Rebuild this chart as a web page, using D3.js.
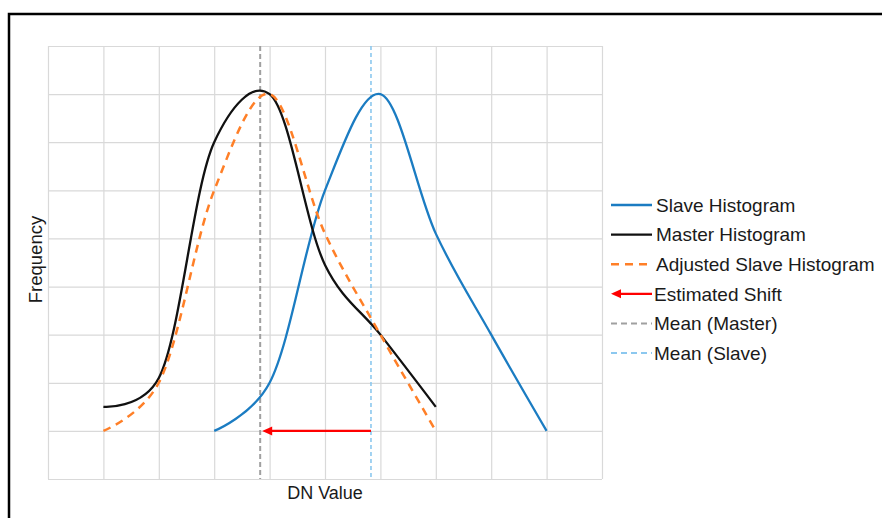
<!DOCTYPE html>
<html>
<head>
<meta charset="utf-8">
<script src="https://cdn.jsdelivr.net/npm/d3@7"></script>
<style>
  html, body { margin: 0; padding: 0; background: #fff; }
  svg { display: block; }
  text { font-family: Arial, "Liberation Sans", sans-serif; fill: #1a1a1a; }
</style>
</head>
<body>
<svg id="chart" width="882" height="518"></svg>
<script>
// ---- data ----
const masterX   = [1, 2, 3, 4, 5, 6, 7];
const masterY   = [1.5, 2.1, 7, 8, 4.45, 3.0, 1.5];
const slaveX    = [3, 4, 5, 6, 7, 8, 9];
const slaveY    = [1, 2, 6, 8, 5.1, 3.0, 1];
const adjustedX = [1, 2, 3, 4, 5, 6, 7];
const adjustedY = [1, 2, 6, 8, 5.1, 3.0, 1];
const meanMaster = 3.83;
const meanSlave  = 5.83;
const shiftLevel = 1;
const xTicks = [0, 1, 2, 3, 4, 5, 6, 7, 8, 9, 10];
const yTicks = [0, 1, 2, 3, 4, 5, 6, 7, 8, 9];
const legendLabels = ["Slave Histogram", "Master Histogram", "Adjusted Slave Histogram",
                      "Estimated Shift", "Mean (Master)", "Mean (Slave)"];

// ---- styles ----
const C = {
  slave: "#1b7cc2", master: "#111111", adjusted: "#ff7f27",
  shift: "#ff0000", meanMaster: "#a0a0a0", meanSlave: "#8cc8ef", grid: "#d9d9d9"
};

const svg = d3.select("#chart");
const pL = 48, pR = 602, pT = 46, pB = 479;
const x = d3.scaleLinear().domain([0, 10]).range([pL, pR]);
const y = d3.scaleLinear().domain([0, 9]).range([pB, pT]);

// outer frame
svg.append("rect").attr("x", 9).attr("y", 14).attr("width", 900).attr("height", 540)
  .attr("fill", "none").attr("stroke", "#000").attr("stroke-width", 2.5);

// gridlines via axes
const gx = svg.append("g").attr("transform", `translate(0,${pB})`)
  .call(d3.axisBottom(x).tickValues(xTicks).tickSize(-(pB - pT)).tickFormat(""));
const gy = svg.append("g").attr("transform", `translate(${pL},0)`)
  .call(d3.axisLeft(y).tickValues(yTicks).tickSize(-(pR - pL)).tickFormat(""));
[gx, gy].forEach(g => {
  g.select(".domain").remove();
  g.selectAll(".tick line").attr("stroke", C.grid).attr("stroke-width", 1.2);
});
// top border of plot box
svg.append("g").attr("transform", `translate(0,${pT})`)
  .call(d3.axisTop(x).tickValues([]).tickSizeOuter(0))
  .select(".domain").attr("stroke", C.grid).attr("stroke-width", 1.2);

const line = d3.line().x(d => x(d[0])).y(d => y(d[1])).curve(d3.curveCatmullRom.alpha(0.2));
const zip = (a, b) => a.map((v, i) => [v, b[i]]);

// mean lines
svg.append("line").attr("x1", x(meanMaster)).attr("x2", x(meanMaster))
  .attr("y1", y(9)).attr("y2", y(0))
  .attr("stroke", C.meanMaster).attr("stroke-width", 2).attr("stroke-dasharray", "5,3");
svg.append("line").attr("x1", x(meanSlave)).attr("x2", x(meanSlave))
  .attr("y1", y(9)).attr("y2", y(0))
  .attr("stroke", C.meanSlave).attr("stroke-width", 1.6).attr("stroke-dasharray", "4,3");

// curves
svg.append("path").datum(zip(slaveX, slaveY)).attr("d", line)
  .attr("fill", "none").attr("stroke", C.slave).attr("stroke-width", 2.3);
svg.append("path").datum(zip(masterX, masterY)).attr("d", line)
  .attr("fill", "none").attr("stroke", C.master).attr("stroke-width", 2.3);
svg.append("path").datum(zip(adjustedX, adjustedY)).attr("d", line)
  .attr("fill", "none").attr("stroke", C.adjusted).attr("stroke-width", 2.5)
  .attr("stroke-dasharray", "8,6");

// shift arrow
function arrow(g, x1, x2, yy) {
  g.append("line").attr("x1", x1).attr("x2", x2 + 8).attr("y1", yy).attr("y2", yy)
    .attr("stroke", C.shift).attr("stroke-width", 2.2);
  g.append("path").attr("d", `M${x2},${yy} L${x2 + 10},${yy - 4.5} L${x2 + 10},${yy + 4.5} Z`)
    .attr("fill", C.shift);
}
arrow(svg, x(meanSlave), x(meanMaster) + 2, y(shiftLevel));

// axis titles
svg.append("text").attr("x", x(5)).attr("y", 499).attr("text-anchor", "middle")
  .attr("font-size", 18).text("DN Value");
svg.append("text").attr("transform", `translate(42,${(pT + pB) / 2 - 3}) rotate(-90)`)
  .attr("text-anchor", "middle").attr("font-size", 18.5).text("Frequency");

// legend
const lg = svg.append("g");
const ly0 = 205, lstep = 29.6, lx1 = 611, lx2 = 652;
const legendStyles = [
  {c: C.slave, w: 2.3, d: null},
  {c: C.master, w: 2.3, d: null},
  {c: C.adjusted, w: 2.5, d: "8,6"},
  null,
  {c: C.meanMaster, w: 2, d: "6,4"},
  {c: C.meanSlave, w: 2, d: "6,4"}
];
legendLabels.forEach((lab, i) => {
  const yy = ly0 + i * lstep;
  if (i === 3) {
    arrow(lg, lx2, lx1, yy);
  } else {
    const st = legendStyles[i];
    const l = lg.append("line").attr("x1", lx1).attr("x2", lx2).attr("y1", yy).attr("y2", yy)
      .attr("stroke", st.c).attr("stroke-width", st.w);
    if (st.d) l.attr("stroke-dasharray", st.d);
  }
  lg.append("text").attr("x", i >= 3 ? 654 : 656).attr("y", yy).attr("dy", "0.36em")
    .attr("font-size", 19).text(lab);
});
</script>
</body>
</html>
